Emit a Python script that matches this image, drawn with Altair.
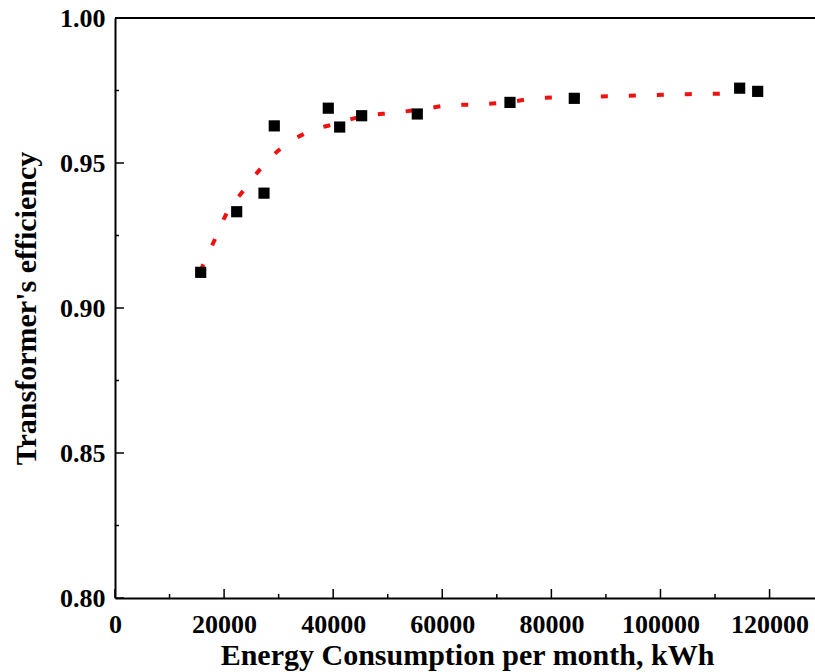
import altair as alt
import pandas as pd

# measured points
meas_x = [15710, 22310, 27315, 29200, 39100, 41190, 45220, 55420, 72410, 84200, 114520, 117820]
meas_y = [0.9123, 0.9332, 0.9396, 0.9628, 0.9689, 0.9624, 0.9663, 0.9669, 0.9709, 0.9723, 0.9758, 0.9747]

# fitted curve
fit_x = [15700, 16080, 18330, 20480, 23650, 26890, 30980, 35620, 40750, 45650, 51020, 56220,
         61410, 66600, 71800, 77050, 82180, 87500, 92700, 97890, 103080, 108340, 113530, 114500]
fit_y = [0.9128, 0.9146, 0.9237, 0.9327, 0.9407, 0.9485, 0.9559, 0.9608, 0.9637, 0.9662, 0.9673, 0.9685,
         0.9699, 0.9702, 0.9709, 0.9723, 0.9727, 0.9729, 0.9731, 0.9734, 0.9737, 0.9738, 0.9741, 0.9743]

x_major = [0, 20000, 40000, 60000, 80000, 100000, 120000]
x_minor = [10000, 30000, 50000, 70000, 90000, 110000]
y_major = [0.80, 0.85, 0.90, 0.95, 1.00]
y_minor = [0.825, 0.875, 0.925, 0.975]

W, H = 700, 580
XMAX = 128330
FONT = "Liberation Serif"

xs = alt.Scale(domain=[0, XMAX], nice=False, zero=False)
ys = alt.Scale(domain=[0.80, 1.00], nice=False, zero=False)

meas = pd.DataFrame({"x": meas_x, "y": meas_y})
fit = pd.DataFrame({"x": fit_x, "y": fit_y})

xaxis = alt.Axis(
    values=x_major, format="d", ticks=False, grid=False,
    domainColor="black", domainWidth=2,
    labelFont=FONT, labelFontSize=26, labelFontWeight="bold", labelColor="black",
    labelPadding=13, labelFlush=False, labelOverlap=False,
    title="Energy Consumption per month, kWh",
    titleFont=FONT, titleFontSize=30, titleFontWeight="bold", titleColor="black",
    titleX=352, titleY=66, titleBaseline="alphabetic", titleAlign="center",
)
yaxis = alt.Axis(
    values=y_major, format=".2f", ticks=False, grid=False,
    domainColor="black", domainWidth=2,
    labelFont=FONT, labelFontSize=26, labelFontWeight="bold", labelColor="black",
    labelPadding=10, labelFlush=False, labelOverlap=False,
    title="Transformer's efficiency",
    titleFont=FONT, titleFontSize=30, titleFontWeight="bold", titleColor="black",
    titleX=-80, titleY=290, titleBaseline="alphabetic", titleAlign="center", titleAngle=-90,
)

curve = alt.Chart(fit).mark_line(
    color="#ee1111", strokeWidth=4, strokeDash=[7, 21], interpolate="monotone", clip=True
).encode(
    x=alt.X("x:Q", scale=xs, axis=xaxis),
    y=alt.Y("y:Q", scale=ys, axis=yaxis),
)

pts = alt.Chart(meas).mark_point(
    shape="square", filled=True, color="black", size=125, opacity=1
).encode(x=alt.X("x:Q", scale=xs), y=alt.Y("y:Q", scale=ys))

xmaj = alt.Chart(pd.DataFrame({"v": x_major})).mark_rule(color="black", strokeWidth=1.5).encode(
    x=alt.X("v:Q", scale=xs), y=alt.value(H), y2=alt.value(H - 9))
xmin = alt.Chart(pd.DataFrame({"v": x_minor})).mark_rule(color="black", strokeWidth=1.5).encode(
    x=alt.X("v:Q", scale=xs), y=alt.value(H), y2=alt.value(H - 4))
ymaj = alt.Chart(pd.DataFrame({"v": y_major})).mark_rule(color="black", strokeWidth=1.5).encode(
    y=alt.Y("v:Q", scale=ys), x=alt.value(0), x2=alt.value(9))
ymin = alt.Chart(pd.DataFrame({"v": y_minor})).mark_rule(color="black", strokeWidth=1.5).encode(
    y=alt.Y("v:Q", scale=ys), x=alt.value(0), x2=alt.value(4))
top = alt.Chart(pd.DataFrame({"v": [1.0]})).mark_rule(color="black", strokeWidth=2).encode(
    y=alt.Y("v:Q", scale=ys), x=alt.value(0), x2=alt.value(W))

chart = alt.layer(curve, pts, xmaj, xmin, ymaj, ymin, top).properties(
    width=W, height=H,
    autosize=alt.AutoSizeParams(type="none"),
    padding={"left": 115, "top": 18, "right": 0, "bottom": 74},
    background="white",
).configure_view(stroke=None)

chart.save("out.html", embed_options={"renderer": "svg", "actions": False})
